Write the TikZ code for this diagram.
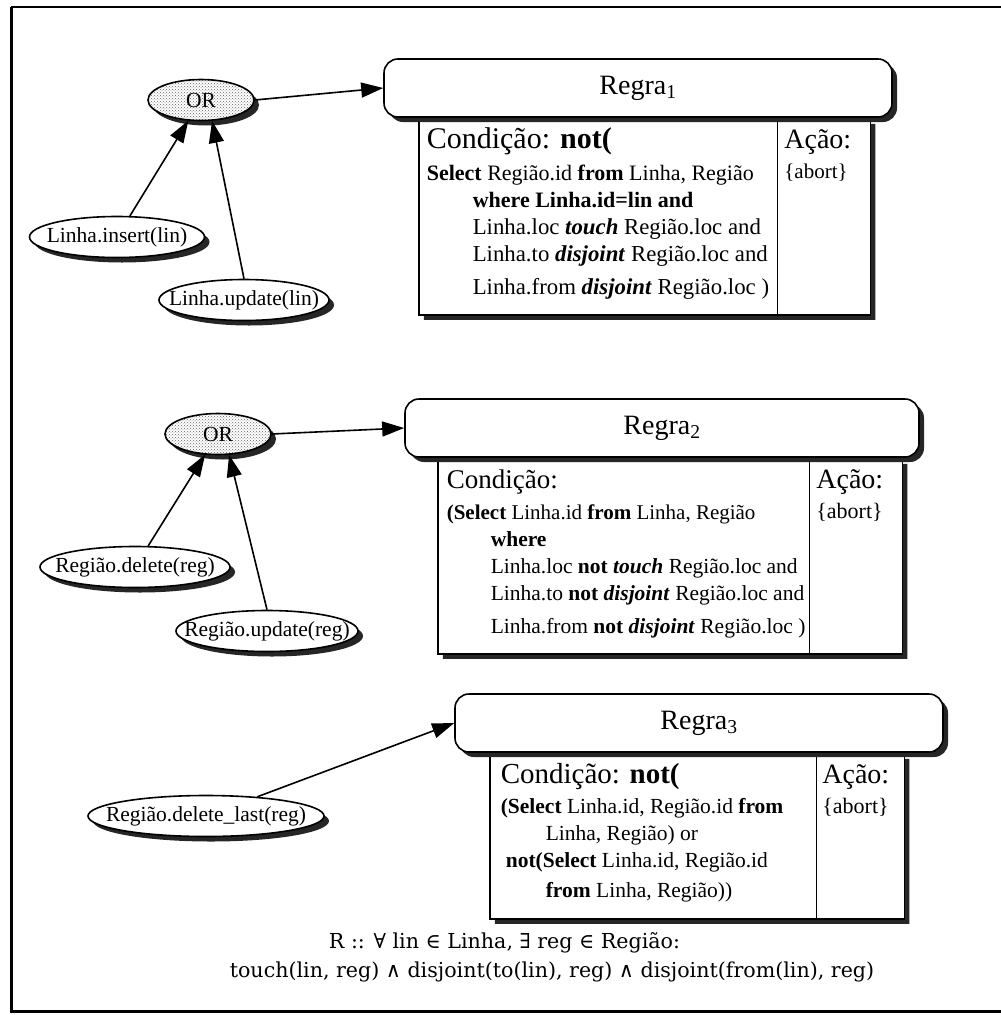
\documentclass[tikz,border=0pt]{standalone}
\usepackage{fontspec}
\setmainfont{Liberation Serif}
\newfontfamily\formulafont{DejaVu Serif}
\usetikzlibrary{arrows.meta, shapes.geometric, shapes.multipart, shadows, patterns, positioning}
\tikzset{
    % shadow under every box
    dark shadow/.style = {drop shadow={shadow xshift=5pt, shadow yshift=-5pt, fill=black!85, opacity=1}},
    % node styles
    event/.style = {ellipse, draw, line width=1.6pt, fill=white, inner xsep=-40pt, inner ysep=2pt, minimum height=41pt, dark shadow, font=\fontsize{21.5}{22}\selectfont},
    or gate/.style = {event, preaction={fill=white}, pattern=crosshatch dots, pattern color=black!60, minimum width=106pt},
    rule head/.style = {rectangle, rounded corners=14pt, draw, line width=1.6pt, fill=white, minimum height=58pt, dark shadow, font=\fontsize{28}{28}\selectfont},
    rule body/.style = {rectangle split, rectangle split horizontal, rectangle split parts=2, draw, line width=1.6pt, fill=white, inner sep=0pt, dark shadow, anchor=north west},
    formula/.style = {align=center, font=\formulafont\fontsize{20.6}{29}\selectfont},
    % arrow style
    trigger/.style = {-{Triangle[length=22pt, width=15pt]}, line width=1.6pt}
}

\begin{document}
\begin{tikzpicture}[x=1pt, y=-1pt]
    \useasboundingbox (0,0) rectangle (1001,1015);
    % frame, open on the right
    \draw[line width=2pt] (11,7) -- (1001,7);
    \draw[line width=3pt] (11,7) -- (11,1011) -- (1001,1011);

    % first rule
    \node[rule body] (body1) at (418,118) {%
        \begin{minipage}[t][196pt]{358pt}
            \leftskip=8pt \fontsize{22}{27}\selectfont
            \rule{0pt}{30pt}{\fontsize{30}{27}\selectfont Condição: \textbf{not(}}\par\vspace{5pt}
            \textbf{Select} Região.id \textbf{from} Linha, Região\par
            \hspace*{46pt}\textbf{where Linha.id=lin and}\par
            \fontsize{22.8}{27}\selectfont
            \hspace*{46pt}Linha.loc \textbf{\textit{touch}} Região.loc and\par
            \hspace*{46pt}Linha.to \textbf{\textit{disjoint}} Região.loc and\par\vspace{6pt}
            \hspace*{46pt}Linha.from \textbf{\textit{disjoint}} Região.loc )
        \end{minipage}
        \nodepart{two}
        \begin{minipage}[t][196pt]{92pt}
            \leftskip=6pt \fontsize{21}{27}\selectfont
            \rule{0pt}{30pt}{\fontsize{28}{27}\selectfont Ação:}\par\vspace{3pt}
            \{abort\}
        \end{minipage}};
    \node[rule head, minimum width=508pt] (hdr1) at (638,88) {Regra\textsubscript{1}};
    \node[or gate] (or1) at (201,100) {OR};
    \node[event, minimum width=175pt] (ins1) at (117,237) {Linha.insert(lin)};
    \node[event, minimum width=170pt] (upd1) at (244,300) {Linha.update(lin)};
    \draw[trigger] (ins1) -- (or1);
    \draw[trigger] (upd1.north) -- (or1.-62);
    \draw[trigger] (or1.east) -- (hdr1.west);

    % second rule
    \node[rule body] (body2) at (437,458) {%
        \begin{minipage}[t][195pt]{371pt}
            \leftskip=9pt \fontsize{21}{27}\selectfont
            \rule{0pt}{30pt}{\fontsize{27}{27}\selectfont Condição:}\par\vspace{4pt}
            \textbf{(Select} Linha.id \textbf{from} Linha, Região\par
            \fontsize{21.5}{27}\selectfont
            \hspace*{44pt}\textbf{where}\par
            \hspace*{44pt}Linha.loc \textbf{not \textit{touch}} Região.loc and\par
            \hspace*{44pt}Linha.to \textbf{not \textit{disjoint}} Região.loc and\par\vspace{6pt}
            \hspace*{44pt}Linha.from \textbf{not \textit{disjoint}} Região.loc )
        \end{minipage}
        \nodepart{two}
        \begin{minipage}[t][195pt]{92pt}
            \leftskip=6pt \fontsize{22}{27}\selectfont
            \rule{0pt}{30pt}{\fontsize{28}{27}\selectfont Ação:}\par\vspace{3pt}
            \{abort\}
        \end{minipage}};
    \node[rule head, minimum width=514pt] (hdr2) at (662,428) {Regra\textsubscript{2}};
    \node[or gate] (or2) at (218,434) {OR};
    \node[event, minimum width=190pt] (del2) at (135,567) {Região.delete(reg)};
    \node[event, minimum width=182pt] (upd2) at (267,631) {Região.update(reg)};
    \draw[trigger] (del2) -- (or2);
    \draw[trigger] (upd2.north) -- (or2.-62);
    \draw[trigger] (or2.east) -- (hdr2.west);

    % third rule
    \node[rule body] (body3) at (489,753) {%
        \begin{minipage}[t][165pt]{326pt}
            \leftskip=11pt \fontsize{21.5}{27}\selectfont
            \rule{0pt}{30pt}{\fontsize{29}{27}\selectfont Condição: \textbf{not(}}\par\vspace{3pt}
            \textbf{(Select} Linha.id, Região.id \textbf{from}\par
            \hspace*{45pt}Linha, Região) or\par
            \hspace*{5pt}\textbf{not(Select} Linha.id, Região.id\par\vspace{3pt}
            \hspace*{45pt}\textbf{from} Linha, Região))
        \end{minipage}
        \nodepart{two}
        \begin{minipage}[t][165pt]{87pt}
            \leftskip=5pt \fontsize{22}{27}\selectfont
            \rule{0pt}{30pt}{\fontsize{28}{27}\selectfont Ação:}\par\vspace{3pt}
            \{abort\}
        \end{minipage}};
    \node[rule head, minimum width=488pt] (hdr3) at (699,723) {Regra\textsubscript{3}};
    \node[event, minimum width=236pt] (last3) at (206,816) {Região.delete\_last(reg)};
    \draw[trigger] (last3) -- (hdr3.west);

    % invariant below the rules
    \node[formula] (inv) at (552,957) {R :: ∀ lin ∈ Linha, ∃ reg ∈ Região:\hspace*{95pt}\\
        touch(lin, reg) ∧ disjoint(to(lin), reg) ∧ disjoint(from(lin), reg)};
\end{tikzpicture}
\end{document}
